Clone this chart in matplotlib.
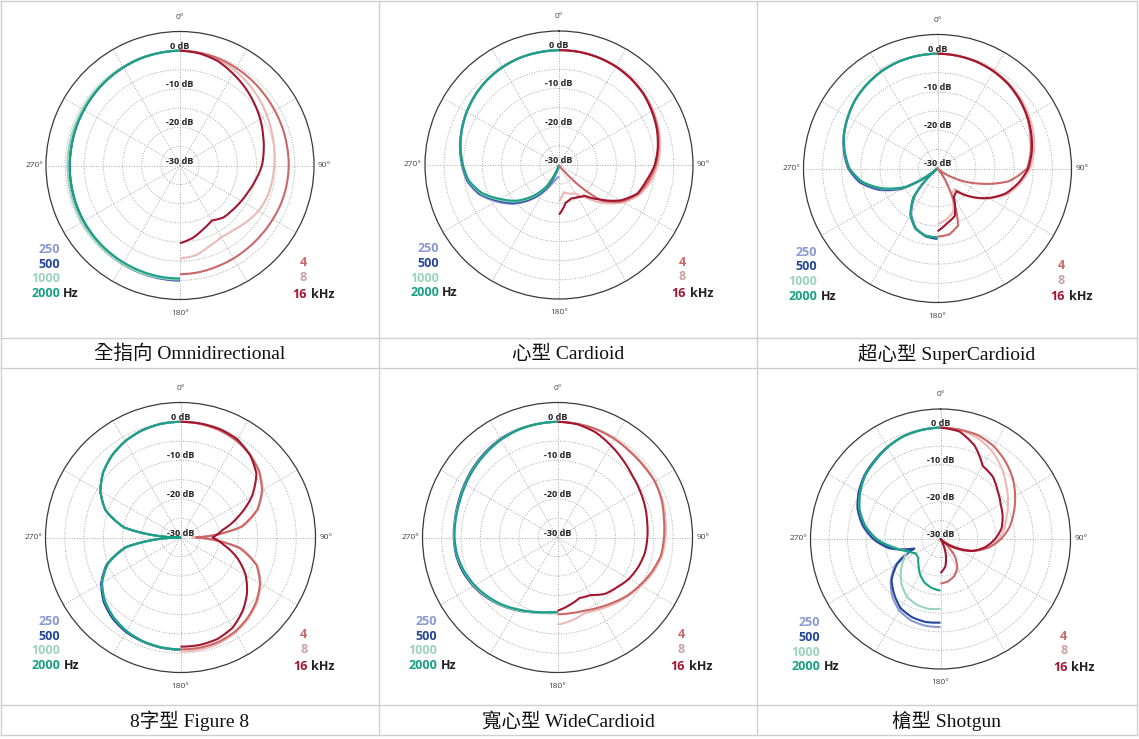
import numpy as np
import matplotlib
matplotlib.use("Agg")
import matplotlib.pyplot as plt

W, H = 1139, 739

# angle grid (degrees from front), left half mirrors it for the Hz curves
angles = list(range(0, 181, 10))

hz_labels = ["250", "500", "1000", "2000"]
khz_labels = ["4", "8", "16"]
titles = [
    "全指向 Omnidirectional",
    "心型 Cardioid",
    "超心型 SuperCardioid",
    "8字型 Figure 8",
    "寬心型 WideCardioid",
    "槍型 Shotgun",
]

# dB values, rows: 250, 500, 1000, 2000 Hz
omni_hz = [
    [0, -0.1, -0.2, -0.4, -0.6, -0.8, -1.0, -1.1, -1.2, -1.2, -1.1, -1.0, -0.8, -0.6, -0.4, -0.2, -0.1, 0.0, 0.1],
    [0, -0.1, -0.2, -0.4, -0.6, -0.8, -1.0, -1.1, -1.2, -1.2, -1.1, -1.0, -0.9, -0.7, -0.5, -0.3, -0.2, -0.1, 0.0],
    [0, -0.1, -0.2, -0.3, -0.4, -0.5, -0.6, -0.6, -0.6, -0.6, -0.6, -0.5, -0.4, -0.4, -0.3, -0.3, -0.2, -0.2, -0.2],
    [0, -0.1, -0.2, -0.4, -0.6, -0.8, -1.0, -1.1, -1.2, -1.2, -1.2, -1.1, -1.0, -0.9, -0.8, -0.7, -0.6, -0.5, -0.5],
]
# rows: 4, 8, 16 kHz
omni_khz = [
    [0, -0.1, -0.3, -0.6, -0.9, -1.2, -1.4, -1.5, -1.6, -1.6, -1.7, -1.8, -2.0, -2.1, -2.1, -2.0, -1.9, -1.7, -1.6],
    [0, -0.2, -0.6, -1.3, -2.2, -3.0, -3.8, -4.5, -5.0, -5.4, -5.6, -5.8, -6.3, -7.2, -8.1, -8.4, -7.6, -6.2, -5.7],
    [0, -0.3, -1.0, -2.3, -3.5, -4.7, -5.8, -6.9, -7.8, -8.6, -9.8, -10.8, -11.5, -12.0, -12.3, -13.4, -12.3, -10.8, -9.7],
]

cardioid_hz = [
    [0, -0.1, -0.2, -0.5, -0.9, -1.4, -2.1, -2.9, -3.7, -4.6, -5.6, -7.7, -11.0, -14.2, -18.0, -21.8, -25.0, -26.5, -27.0],
    [0, -0.1, -0.2, -0.5, -0.9, -1.5, -2.2, -3.0, -3.8, -4.8, -5.8, -8.0, -11.5, -14.6, -18.4, -22.5, -27.5, -30, -30],
    [0, -0.1, -0.2, -0.5, -0.9, -1.5, -2.2, -3.0, -3.9, -4.9, -6.0, -8.3, -11.9, -15.1, -19.0, -23.3, -30, -30, -30],
    [0, -0.1, -0.2, -0.5, -0.9, -1.5, -2.2, -3.0, -3.9, -4.9, -6.1, -8.6, -12.3, -15.5, -19.4, -23.7, -30, -30, -30],
]
cardioid_khz = [
    [0, 0, -0.1, -0.3, -0.6, -1.1, -1.8, -2.6, -3.6, -4.7, -6.2, -8.0, -11.0, -15.5, -28.0, -30, -30, -30, -30],
    [0, 0, -0.1, -0.3, -0.6, -1.0, -1.6, -2.3, -3.2, -4.2, -5.6, -7.5, -10.5, -14.5, -18.8, -21.5, -22.0, -22.8, -20.5],
    [0, 0, -0.1, -0.3, -0.7, -1.2, -2.0, -2.8, -3.8, -5.0, -6.8, -8.2, -11.5, -16.0, -19.5, -20.3, -20.7, -20.0, -17.0],
]

super_hz = [
    [0, -0.1, -0.3, -0.7, -1.3, -2.0, -2.9, -3.9, -5.1, -6.6, -9.2, -13.6, -19.5, -30, -21.0, -16.3, -13.5, -12.1, -11.7],
    [0, -0.1, -0.3, -0.7, -1.3, -2.0, -3.0, -4.0, -5.3, -6.8, -9.5, -14.0, -19.8, -30, -20.5, -16.0, -13.3, -12.0, -11.6],
    [0, -0.1, -0.3, -0.7, -1.3, -2.0, -3.0, -4.0, -5.4, -7.0, -9.9, -14.6, -20.3, -30, -20.3, -15.9, -13.2, -12.2, -12.0],
    [0, -0.1, -0.3, -0.7, -1.3, -2.0, -3.0, -4.0, -5.4, -7.0, -10.0, -14.8, -20.5, -30, -20.2, -15.9, -13.2, -12.2, -12.0],
]
super_khz = [
    [0, -0.1, -0.3, -0.7, -1.3, -2.1, -3.0, -4.2, -5.3, -6.6, -11.0, -18.5, -25.0, -30, -30, -24.0, -14.2, -12.5, -12.2],
    [0, -0.1, -0.2, -0.5, -1.0, -1.6, -2.4, -3.3, -4.4, -5.8, -8.0, -10.5, -14.3, -18.5, -23.0, -22.5, -18.0, -16.5, -15.5],
    [0, -0.1, -0.3, -0.7, -1.2, -2.0, -2.9, -3.9, -5.0, -6.3, -8.5, -11.0, -14.6, -18.5, -22.3, -21.5, -16.8, -15.5, -13.6],
]

fig8_hz = [
    [0, -0.1, -0.5, -1.2, -2.3, -3.8, -6.0, -9.3, -15.2, -30, -15.5, -9.6, -6.2, -4.1, -2.7, -1.8, -1.3, -1.0, -0.9],
    [0, -0.1, -0.5, -1.2, -2.3, -3.8, -6.0, -9.3, -15.2, -30, -15.6, -9.7, -6.3, -4.0, -2.6, -1.7, -1.3, -1.0, -0.9],
    [0, -0.1, -0.5, -1.2, -2.3, -3.8, -6.0, -9.3, -15.2, -30, -15.8, -9.9, -6.5, -4.4, -3.0, -2.0, -1.4, -1.1, -1.0],
    [0, -0.1, -0.5, -1.2, -2.3, -3.8, -6.0, -9.3, -15.2, -30, -15.8, -9.9, -6.5, -4.4, -3.0, -2.0, -1.4, -1.1, -1.0],
]
fig8_khz = [
    [0, -0.1, -0.4, -1.0, -2.0, -3.4, -5.6, -8.8, -14.0, -26.0, -14.5, -9.0, -6.2, -4.3, -2.9, -1.8, -1.2, -1.0, -1.0],
    [0, -0.1, -0.4, -1.0, -1.9, -3.3, -5.4, -8.6, -13.5, -27.0, -14.0, -8.8, -6.0, -4.0, -2.6, -1.5, -0.8, -0.5, -0.4],
    [0, 0, -0.1, -0.6, -2.0, -4.3, -8.6, -14.0, -19.0, -21.7, -18.5, -14.3, -10.5, -7.5, -5.0, -3.0, -2.0, -1.7, -1.7],
]

wide_hz = [
    [0, -0.1, -0.3, -0.7, -1.3, -1.9, -2.5, -2.9, -3.1, -3.2, -3.5, -4.1, -5.0, -6.1, -7.3, -8.5, -9.5, -10.3, -10.7],
    [0, -0.1, -0.2, -0.5, -1.0, -1.6, -2.2, -2.7, -3.0, -3.1, -3.3, -3.9, -4.8, -5.9, -7.1, -8.3, -9.4, -10.2, -10.6],
    [0, -0.1, -0.3, -0.7, -1.2, -1.8, -2.4, -2.9, -3.1, -3.2, -3.5, -4.2, -5.0, -6.1, -7.2, -8.4, -9.4, -10.1, -10.5],
    [0, -0.1, -0.3, -0.7, -1.3, -1.9, -2.5, -3.0, -3.2, -3.3, -3.6, -4.3, -5.2, -6.3, -7.4, -8.6, -9.6, -10.3, -10.7],
]
wide_khz = [
    [0, -0.1, -0.2, -0.5, -0.9, -1.0, -0.9, -1.3, -2.0, -2.4, -2.8, -4.0, -5.3, -6.5, -7.9, -9.0, -9.8, -10.1, -10.1],
    [0, -0.1, -0.2, -0.4, -0.7, -0.8, -0.8, -1.1, -1.6, -2.0, -2.5, -3.6, -5.0, -6.3, -7.4, -8.5, -9.2, -8.2, -7.4],
    [0, -0.2, -1.0, -2.4, -3.7, -4.8, -5.4, -5.9, -6.4, -6.7, -7.0, -7.7, -8.6, -9.9, -10.9, -12.8, -13.3, -12.2, -11.0],
]

shotgun_hz = [
    [0, -0.2, -0.6, -1.4, -2.4, -3.3, -4.6, -6.2, -8.6, -11.8, -15.8, -22.0, -16.0, -12.5, -9.8, -7.8, -6.7, -6.3, -6.3],
    [0, -0.2, -0.6, -1.4, -2.4, -3.3, -4.6, -6.3, -8.8, -12.0, -16.0, -22.5, -16.5, -12.8, -10.6, -8.5, -7.6, -7.3, -7.5],
    [0, -0.2, -0.6, -1.5, -2.6, -3.5, -5.0, -6.8, -9.4, -12.8, -17.5, -20.5, -18.5, -16.0, -13.8, -12.0, -11.2, -10.9, -11.2],
    [0, -0.2, -0.6, -1.5, -2.6, -3.5, -5.0, -6.8, -9.4, -12.8, -17.0, -20.5, -22.3, -22.2, -20.8, -19.0, -17.5, -16.6, -16.1],
]
shotgun_khz = [
    [0, -0.1, -0.3, -1.2, -2.8, -4.6, -6.8, -9.0, -11.1, -13.7, -16.8, -20.8, -26.0, -30, -24.0, -21.0, -19.3, -18.4, -18.0],
    [0, -0.2, -1.0, -2.5, -4.6, -7.0, -9.0, -11.0, -12.5, -14.3, -17.0, -20.5, -24.5, -28.0, -30, -30, -30, -30, -30],
    [0, -0.6, -3.2, -7.3, -8.1, -9.9, -11.3, -12.2, -13.3, -15.3, -17.7, -20.6, -25.0, -28.5, -30, -30, -26.0, -22.5, -20.8],
]

panels_hz = [omni_hz, cardioid_hz, super_hz, fig8_hz, wide_hz, shotgun_hz]
panels_khz = [omni_khz, cardioid_khz, super_khz, fig8_khz, wide_khz, shotgun_khz]

hz_colors = ["#8a98d4", "#23469c", "#9cd3bc", "#18a085"]
khz_colors = ["#cc6767", "#ecbab6", "#a3162f"]
khz_text_colors = ["#cc6767", "#caa2a2", "#a3162f"]

# layout in pixels (centre x, centre y, outer radius)
centers = [(180, 165.5), (559, 165), (937.5, 168.5), (180.5, 537.5), (557.5, 537.5), (940.5, 539)]
radii = [134, 134, 134, 135, 135, 130]
cell_x = [190, 568, 947]
caption_y = [354, 721]

sans = "Open Sans"
cap_family = ["Liberation Serif", "Noto Sans CJK TC"]

fig = plt.figure(figsize=(W / 100, H / 100), dpi=100)
fig.patch.set_facecolor("white")

th = np.radians(angles)


def polar_line(ax, theta, vals, color):
    ln, = ax.plot(theta, vals, color=color, lw=1.5, solid_capstyle="butt",
                  solid_joinstyle="round")
    # let the polar transform draw each segment as a curve, not a chord
    ln.get_path()._interpolation_steps = 24
    return ln


for i in range(6):
    cx, cy = centers[i]
    R = radii[i]
    ax = fig.add_axes([(cx - R) / W, 1 - (cy + R) / H, 2 * R / W, 2 * R / H], projection="polar")
    ax.set_theta_zero_location("N")
    ax.set_theta_direction(-1)
    ax.set_ylim(-30, 5)
    ax.set_yticks([-25, -20, -15, -10, -5, 0])
    ax.set_yticklabels([])
    ax.set_xticks(np.radians(np.arange(0, 360, 30)))
    ax.set_xticklabels([])
    ax.tick_params(length=0)
    ax.grid(True, color="#a9a9a9", lw=0.7, ls=(0, (1, 1.6)))
    ax.spines["polar"].set_color("#3a3a3a")
    ax.spines["polar"].set_linewidth(0.9)

    for vals, c in zip(panels_hz[i], hz_colors):
        polar_line(ax, 2 * np.pi - th, vals, c)
    for k in [1, 0, 2]:
        polar_line(ax, th, panels_khz[i][k], khz_colors[k])

# overlay for table lines and texts, in pixel coordinates
bg = fig.add_axes([0, 0, 1, 1], zorder=10)
bg.set_xlim(0, W)
bg.set_ylim(H, 0)
bg.axis("off")

line_kw = dict(color="#cfcfcf", lw=1.0)
for y in [0.5, 338, 367.5, 705, 735]:
    bg.plot([0.5, 1136.5], [y, y], **line_kw)
for x in [0.5, 379, 757, 1136.5]:
    bg.plot([x, x], [0.5, 735], **line_kw)

for i in range(6):
    cx, cy = centers[i]
    R = radii[i]
    # angle labels
    akw = dict(fontsize=6, color="#444444", family=sans, va="center")
    bg.text(cx, cy - R - 14, "0°", ha="center", **akw)
    bg.text(cx, cy + R + 14, "180°", ha="center", **akw)
    bg.text(cx + R + 4, cy, "90°", ha="left", **akw)
    bg.text(cx - R - 3, cy, "270°", ha="right", **akw)
    # dB ring labels
    for lvl in [0, -10, -20, -30]:
        r = R * (lvl + 30) / 35
        bg.text(cx, cy - r - 4.5, f"{lvl} dB", ha="center", va="center",
                fontsize=6.5, fontweight="bold", color="#222222", family=sans)
    # frequency labels
    for lab, c, dy in zip(hz_labels, hz_colors, [84, 98.5, 113, 128]):
        bg.text(cx - 120, cy + dy, lab, ha="right", va="center", fontsize=9,
                fontweight="bold", color=c, family=sans)
    bg.text(cx - 117, cy + 128, "Hz", ha="left", va="center", fontsize=9,
            fontweight="bold", color="#222222", family=sans)
    for lab, c, dy in zip(khz_labels, khz_text_colors, [97, 112, 128.5]):
        bg.text(cx + 127, cy + dy, lab, ha="right", va="center", fontsize=9,
                fontweight="bold", color=c, family=sans)
    bg.text(cx + 131, cy + 128.5, "kHz", ha="left", va="center", fontsize=9,
            fontweight="bold", color="#222222", family=sans)
    # caption
    bg.text(cell_x[i % 3], caption_y[i // 3], titles[i], ha="center", va="center",
            fontsize=14, color="#111111", family=cap_family)

fig.savefig("out.png", dpi=100)
